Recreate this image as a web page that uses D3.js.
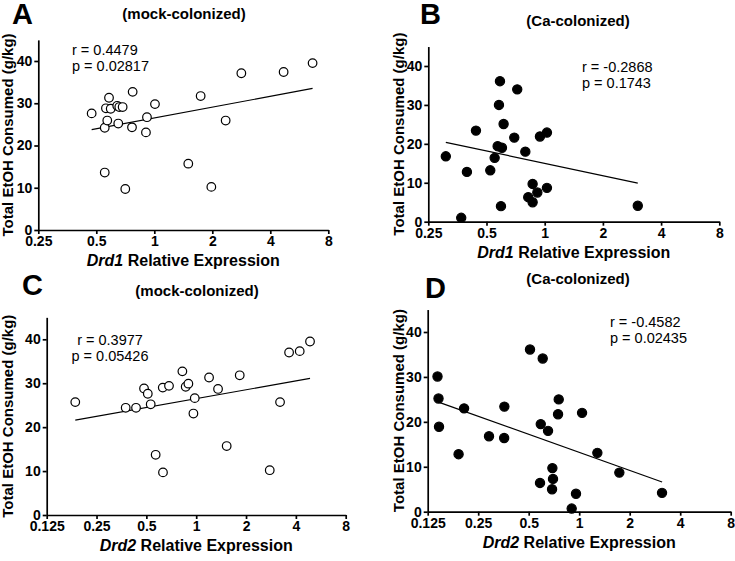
<!DOCTYPE html>
<html>
<head>
<meta charset="utf-8">
<script src="https://cdn.jsdelivr.net/npm/d3@7"></script>
<style>
  body { margin: 0; background: #fff; }
  svg { display: block; font-family: "Liberation Sans", Arial, sans-serif; }
</style>
</head>
<body>
<div id="chart"></div>
<script>
// tick labels
const drd1Ticks = [0.25, 0.5, 1, 2, 4, 8];
const drd2Ticks = [0.125, 0.25, 0.5, 1, 2, 4, 8];
const yTicks = [0, 10, 20, 30, 40];

// A: Drd1, mock-colonized
const aExpr = [0.473, 0.553, 0.570, 0.561, 0.582, 0.594, 0.642, 0.658, 0.685, 0.650, 0.772, 0.766,
  0.916, 0.905, 1.008, 0.553, 0.707, 1.501, 1.740, 1.977, 2.346, 2.83, 4.69, 6.63];
const aEtoh = [27.6, 24.2, 25.9, 28.8, 31.3, 28.7, 29.4, 29.1, 29.1, 25.2, 32.7, 24.3,
  26.7, 23.1, 29.8, 13.6, 9.7, 15.7, 31.7, 10.2, 25.9, 37.1, 37.4, 39.5];
const aFitX = [0.473, 6.63];
const aFitY = [23.75, 33.5];

// B: Drd1, Ca-colonized
const bExpr = [0.308, 0.370, 0.396, 0.441, 0.523, 0.551, 0.571, 0.601, 0.580, 0.587, 0.613, 0.594,
  0.696, 0.721, 0.794, 0.822, 0.866, 0.866, 0.916, 0.945, 1.027, 1.027, 3.03];
const bEtoh = [16.8, 1.0, 12.8, 23.4, 13.2, 16.4, 19.4, 19.0, 30.0, 36.1, 25.1, 4.0,
  21.6, 34.0, 18.0, 6.3, 9.7, 5.0, 7.5, 21.9, 22.9, 8.7, 4.1];
const bFitX = [0.308, 3.03];
const bFitY = [20.4, 9.9];

// C: Drd2, mock-colonized
const cExpr = [0.186, 0.375, 0.433, 0.484, 0.510, 0.531, 0.569, 0.628, 0.630, 0.685, 0.825, 0.864,
  0.897, 0.980, 0.962, 1.196, 1.355, 1.528, 1.832, 2.781, 3.21, 3.64, 4.22, 4.87];
const cEtoh = [25.7, 24.4, 24.4, 28.8, 27.6, 25.2, 13.7, 29.0, 9.7, 29.4, 32.7, 29.2,
  29.9, 26.6, 23.1, 31.3, 28.7, 15.7, 31.8, 10.2, 25.7, 37.0, 37.3, 39.5];
const cFitX = [0.186, 4.87];
const cFitY = [21.6, 31.1];

// D: Drd2, Ca-colonized
const dExpr = [0.143, 0.145, 0.146, 0.191, 0.206, 0.290, 0.357, 0.358, 0.509, 0.584, 0.590, 0.606,
  0.652, 0.692, 0.698, 0.689, 0.748, 0.755, 0.902, 0.957, 1.04, 1.283, 1.735, 3.117];
const dEtoh = [30.1, 25.2, 18.9, 12.8, 23.0, 16.8, 16.4, 23.4, 36.1, 6.4, 19.5, 34.1,
  18.0, 9.7, 7.3, 5.0, 21.7, 25.0, 0.7, 4.0, 22.0, 13.1, 8.7, 4.2];
const dFitX = [0.145, 3.12];
const dFitY = [24.4, 6.6];

// stats text
const rTexts = ["r = 0.4479", "r = -0.2868", "r = 0.3977", "r = -0.4582"];
const pTexts = ["p = 0.02817", "p = 0.1743", "p = 0.05426", "p = 0.02435"];

const width = 735;
const height = 561;

const svg = d3.select("#chart")
    .append("svg")
    .attr("width", width)
    .attr("height", height)
    .attr("viewBox", [0, 0, width, height]);

const panels = [
  {letter: "A", title: "(mock-colonized)", gene: "Drd1", xs: aExpr, ys: aEtoh, fx: aFitX, fy: aFitY,
   ticks: drd1Ticks, filled: false,
   x0: 38.3, x1: 328.3, y0: 230, y40: 61,
   lx: 12, ly: 24, tx: 184, ty: 19, rx: 72, ry: 55, anchor: "start", labX: 13},
  {letter: "B", title: "(Ca-colonized)", gene: "Drd1", xs: bExpr, ys: bEtoh, fx: bFitX, fy: bFitY,
   ticks: drd1Ticks, filled: true,
   x0: 428.3, x1: 719.3, y0: 221.7, y40: 66,
   lx: 420, ly: 24, tx: 578, ty: 26, rx: 582, ry: 72, anchor: "start", labX: 404},
  {letter: "C", title: "(mock-colonized)", gene: "Drd2", xs: cExpr, ys: cEtoh, fx: cFitX, fy: cFitY,
   ticks: drd2Ticks, filled: false,
   x0: 46.7, x1: 345.7, y0: 515, y40: 339.3,
   lx: 22, ly: 295, tx: 197, ty: 296, rx: 110, ry: 345, anchor: "middle", labX: 13},
  {letter: "D", title: "(Ca-colonized)", gene: "Drd2", xs: dExpr, ys: dEtoh, fx: dFitX, fy: dFitY,
   ticks: drd2Ticks, filled: true,
   x0: 427.7, x1: 730.7, y0: 511.7, y40: 332,
   lx: 425, ly: 298, tx: 578, ty: 284, rx: 610, ry: 327, anchor: "start", labX: 404}
];

panels.forEach((p, k) => {
  const g = svg.append("g");
  const yTop = p.y0 - 45 * (p.y0 - p.y40) / 40;

  const x = d3.scaleLog().base(2)
      .domain([p.ticks[0], p.ticks[p.ticks.length - 1]])
      .range([p.x0, p.x1]);
  const y = d3.scaleLinear()
      .domain([0, 45])
      .range([p.y0, yTop]);

  // axes
  const xAxis = d3.axisBottom(x)
      .tickValues(p.ticks)
      .tickFormat(d => String(d))
      .tickSize(4)
      .tickSizeOuter(0)
      .tickPadding(2);
  const yAxis = d3.axisLeft(y)
      .tickValues(yTicks)
      .tickFormat(d3.format("d"))
      .tickSize(4)
      .tickSizeOuter(0)
      .tickPadding(2);

  const gx = g.append("g")
      .attr("transform", `translate(0, ${p.y0})`)
      .call(xAxis);
  const gy = g.append("g")
      .attr("transform", `translate(${p.x0}, 0)`)
      .call(yAxis);
  [gx, gy].forEach(a => {
    a.selectAll("path, line").attr("stroke", "#000").attr("stroke-width", 1.7);
    a.selectAll("text")
        .attr("fill", "#000")
        .style("font-family", "'Liberation Sans', Arial, sans-serif")
        .style("font-size", "14px")
        .style("font-weight", "bold");
  });

  // regression line
  g.append("line")
      .attr("x1", x(p.fx[0]))
      .attr("y1", y(p.fy[0]))
      .attr("x2", x(p.fx[1]))
      .attr("y2", y(p.fy[1]))
      .attr("stroke", "#000")
      .attr("stroke-width", 1.2);

  // points
  g.selectAll("circle")
      .data(p.xs.map((v, i) => ({x: v, y: p.ys[i]})))
      .enter()
      .append("circle")
      .attr("cx", d => x(d.x))
      .attr("cy", d => y(d.y))
      .attr("r", p.filled ? 4.6 : 4.3)
      .attr("fill", p.filled ? "#000" : "#fff")
      .attr("stroke", "#000")
      .attr("stroke-width", 1.2);

  // panel letter
  g.append("text")
      .attr("x", p.lx)
      .attr("y", p.ly)
      .attr("font-size", "29px")
      .attr("font-weight", "bold")
      .text(p.letter);

  // title
  g.append("text")
      .attr("x", p.tx)
      .attr("y", p.ty)
      .attr("text-anchor", "middle")
      .attr("font-size", "15px")
      .attr("font-weight", "bold")
      .text(p.title);

  // stats
  g.append("text")
      .attr("x", p.rx)
      .attr("y", p.ry)
      .attr("text-anchor", p.anchor)
      .attr("font-size", "14.5px")
      .text(rTexts[k]);
  g.append("text")
      .attr("x", p.rx)
      .attr("y", p.ry + 16)
      .attr("text-anchor", p.anchor)
      .attr("font-size", "14.5px")
      .text(pTexts[k]);

  // x title
  const xt = g.append("text")
      .attr("x", (p.x0 + p.x1) / 2)
      .attr("y", p.y0 + 36)
      .attr("text-anchor", "middle")
      .attr("font-size", "16px")
      .attr("font-weight", "bold");
  xt.append("tspan").attr("font-style", "italic").text(p.gene);
  xt.append("tspan").text(" Relative Expression");

  // y title
  g.append("text")
      .attr("transform", `translate(${p.labX}, ${(p.y0 + yTop) / 2}) rotate(-90)`)
      .attr("text-anchor", "middle")
      .attr("font-size", "15px")
      .attr("font-weight", "bold")
      .text("Total EtOH Consumed (g/kg)");
});
</script>
</body>
</html>
